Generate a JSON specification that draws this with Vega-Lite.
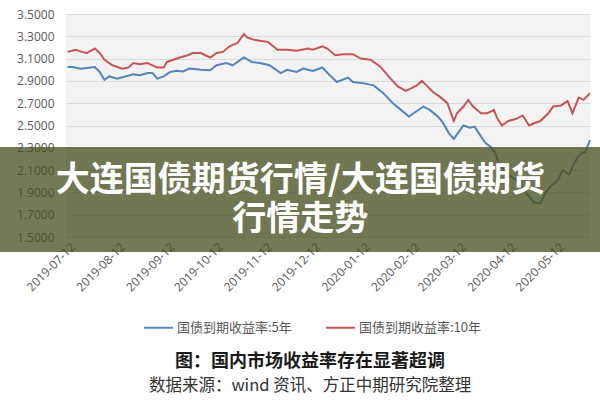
{
  "$schema": "https://vega.github.io/schema/vega-lite/v6.json",
  "width": 524,
  "height": 223,
  "autosize": {"type": "none"},
  "padding": {"left": 66, "top": 14, "right": 10, "bottom": 163},
  "background": "white",
  "config": {
    "view": {"fill": "#f3f3f3", "stroke": null},
    "font": "Noto Sans CJK SC"
  },
  "title": {
    "text": "图：国内市场收益率存在显著超调",
    "subtitle": "数据来源：wind 资讯、方正中期研究院整理",
    "orient": "bottom",
    "anchor": "middle",
    "frame": "group",
    "dx": -18,
    "offset": 18,
    "font": "Noto Sans CJK SC",
    "fontSize": 18,
    "fontWeight": "bold",
    "color": "#1a1a1a",
    "subtitleFont": "Noto Sans CJK SC",
    "subtitleFontSize": 16.5,
    "subtitleColor": "#333333",
    "subtitlePadding": 7
  },
  "datasets": {
    "yields": [
      {"date": "2019-07-11", "series": "国债到期收益率:5年", "v": 3.025},
      {"date": "2019-07-14", "series": "国债到期收益率:5年", "v": 3.025},
      {"date": "2019-07-19", "series": "国债到期收益率:5年", "v": 3.01},
      {"date": "2019-07-23", "series": "国债到期收益率:5年", "v": 3.015},
      {"date": "2019-07-28", "series": "国债到期收益率:5年", "v": 3.025},
      {"date": "2019-07-31", "series": "国债到期收益率:5年", "v": 2.98},
      {"date": "2019-08-03", "series": "国债到期收益率:5年", "v": 2.91},
      {"date": "2019-08-06", "series": "国债到期收益率:5年", "v": 2.94},
      {"date": "2019-08-11", "series": "国债到期收益率:5年", "v": 2.92},
      {"date": "2019-08-16", "series": "国债到期收益率:5年", "v": 2.94},
      {"date": "2019-08-21", "series": "国债到期收益率:5年", "v": 2.96},
      {"date": "2019-08-25", "series": "国债到期收益率:5年", "v": 2.95},
      {"date": "2019-08-30", "series": "国债到期收益率:5年", "v": 2.97},
      {"date": "2019-09-02", "series": "国债到期收益率:5年", "v": 2.97},
      {"date": "2019-09-05", "series": "国债到期收益率:5年", "v": 2.92},
      {"date": "2019-09-09", "series": "国债到期收益率:5年", "v": 2.94},
      {"date": "2019-09-13", "series": "国债到期收益率:5年", "v": 2.98},
      {"date": "2019-09-17", "series": "国债到期收益率:5年", "v": 2.99},
      {"date": "2019-09-21", "series": "国债到期收益率:5年", "v": 2.985},
      {"date": "2019-09-25", "series": "国债到期收益率:5年", "v": 3.01},
      {"date": "2019-09-30", "series": "国债到期收益率:5年", "v": 3.005},
      {"date": "2019-10-02", "series": "国债到期收益率:5年", "v": 3.0},
      {"date": "2019-10-08", "series": "国债到期收益率:5年", "v": 2.995},
      {"date": "2019-10-12", "series": "国债到期收益率:5年", "v": 3.04},
      {"date": "2019-10-18", "series": "国债到期收益率:5年", "v": 3.06},
      {"date": "2019-10-22", "series": "国债到期收益率:5年", "v": 3.04},
      {"date": "2019-10-29", "series": "国债到期收益率:5年", "v": 3.11},
      {"date": "2019-11-03", "series": "国债到期收益率:5年", "v": 3.07},
      {"date": "2019-11-08", "series": "国债到期收益率:5年", "v": 3.06},
      {"date": "2019-11-14", "series": "国债到期收益率:5年", "v": 3.04},
      {"date": "2019-11-21", "series": "国债到期收益率:5年", "v": 2.97},
      {"date": "2019-11-25", "series": "国债到期收益率:5年", "v": 3.0},
      {"date": "2019-12-01", "series": "国债到期收益率:5年", "v": 2.98},
      {"date": "2019-12-05", "series": "国债到期收益率:5年", "v": 3.01},
      {"date": "2019-12-11", "series": "国债到期收益率:5年", "v": 2.99},
      {"date": "2019-12-17", "series": "国债到期收益率:5年", "v": 3.02},
      {"date": "2019-12-21", "series": "国债到期收益率:5年", "v": 2.96},
      {"date": "2019-12-26", "series": "国债到期收益率:5年", "v": 2.89},
      {"date": "2020-01-02", "series": "国债到期收益率:5年", "v": 2.93},
      {"date": "2020-01-05", "series": "国债到期收益率:5年", "v": 2.89},
      {"date": "2020-01-11", "series": "国债到期收益率:5年", "v": 2.88},
      {"date": "2020-01-18", "series": "国债到期收益率:5年", "v": 2.86},
      {"date": "2020-01-24", "series": "国债到期收益率:5年", "v": 2.79},
      {"date": "2020-01-30", "series": "国债到期收益率:5年", "v": 2.7},
      {"date": "2020-02-04", "series": "国债到期收益率:5年", "v": 2.64},
      {"date": "2020-02-09", "series": "国债到期收益率:5年", "v": 2.58},
      {"date": "2020-02-12", "series": "国债到期收益率:5年", "v": 2.61},
      {"date": "2020-02-18", "series": "国债到期收益率:5年", "v": 2.67},
      {"date": "2020-02-22", "series": "国债到期收益率:5年", "v": 2.64},
      {"date": "2020-02-27", "series": "国债到期收益率:5年", "v": 2.58},
      {"date": "2020-03-01", "series": "国债到期收益率:5年", "v": 2.53},
      {"date": "2020-03-05", "series": "国债到期收益率:5年", "v": 2.43},
      {"date": "2020-03-08", "series": "国债到期收益率:5年", "v": 2.38},
      {"date": "2020-03-11", "series": "国债到期收益率:5年", "v": 2.44},
      {"date": "2020-03-14", "series": "国债到期收益率:5年", "v": 2.5},
      {"date": "2020-03-18", "series": "国债到期收益率:5年", "v": 2.48},
      {"date": "2020-03-21", "series": "国债到期收益率:5年", "v": 2.49},
      {"date": "2020-03-25", "series": "国债到期收益率:5年", "v": 2.4},
      {"date": "2020-03-28", "series": "国债到期收益率:5年", "v": 2.34},
      {"date": "2020-03-31", "series": "国债到期收益率:5年", "v": 2.31},
      {"date": "2020-04-03", "series": "国债到期收益率:5年", "v": 2.25},
      {"date": "2020-04-05", "series": "国债到期收益率:5年", "v": 2.16},
      {"date": "2020-04-11", "series": "国债到期收益率:5年", "v": 2.06},
      {"date": "2020-04-16", "series": "国债到期收益率:5年", "v": 2.01},
      {"date": "2020-04-22", "series": "国债到期收益率:5年", "v": 1.9},
      {"date": "2020-04-27", "series": "国债到期收益率:5年", "v": 1.81},
      {"date": "2020-05-01", "series": "国债到期收益率:5年", "v": 1.8},
      {"date": "2020-05-04", "series": "国债到期收益率:5年", "v": 1.89},
      {"date": "2020-05-07", "series": "国债到期收益率:5年", "v": 1.95},
      {"date": "2020-05-12", "series": "国债到期收益率:5年", "v": 2.01},
      {"date": "2020-05-15", "series": "国债到期收益率:5年", "v": 2.1},
      {"date": "2020-05-19", "series": "国债到期收益率:5年", "v": 2.06},
      {"date": "2020-05-22", "series": "国债到期收益率:5年", "v": 2.16},
      {"date": "2020-05-25", "series": "国债到期收益率:5年", "v": 2.23},
      {"date": "2020-05-28", "series": "国债到期收益率:5年", "v": 2.26},
      {"date": "2020-05-29", "series": "国债到期收益率:5年", "v": 2.26},
      {"date": "2020-06-01", "series": "国债到期收益率:5年", "v": 2.37},

      {"date": "2019-07-11", "series": "国债到期收益率:10年", "v": 3.16},
      {"date": "2019-07-16", "series": "国债到期收益率:10年", "v": 3.18},
      {"date": "2019-07-20", "series": "国债到期收益率:10年", "v": 3.16},
      {"date": "2019-07-23", "series": "国债到期收益率:10年", "v": 3.15},
      {"date": "2019-07-28", "series": "国债到期收益率:10年", "v": 3.19},
      {"date": "2019-07-31", "series": "国债到期收益率:10年", "v": 3.15},
      {"date": "2019-08-03", "series": "国债到期收益率:10年", "v": 3.09},
      {"date": "2019-08-08", "series": "国债到期收益率:10年", "v": 3.04},
      {"date": "2019-08-14", "series": "国债到期收益率:10年", "v": 3.01},
      {"date": "2019-08-18", "series": "国债到期收益率:10年", "v": 3.02},
      {"date": "2019-08-21", "series": "国债到期收益率:10年", "v": 3.06},
      {"date": "2019-08-25", "series": "国债到期收益率:10年", "v": 3.05},
      {"date": "2019-08-30", "series": "国债到期收益率:10年", "v": 3.06},
      {"date": "2019-09-02", "series": "国债到期收益率:10年", "v": 3.04},
      {"date": "2019-09-05", "series": "国债到期收益率:10年", "v": 3.02},
      {"date": "2019-09-09", "series": "国债到期收益率:10年", "v": 3.02},
      {"date": "2019-09-11", "series": "国债到期收益率:10年", "v": 3.07},
      {"date": "2019-09-15", "series": "国债到期收益率:10年", "v": 3.09},
      {"date": "2019-09-19", "series": "国债到期收益率:10年", "v": 3.11},
      {"date": "2019-09-24", "series": "国债到期收益率:10年", "v": 3.13},
      {"date": "2019-09-27", "series": "国债到期收益率:10年", "v": 3.15},
      {"date": "2019-10-02", "series": "国债到期收益率:10年", "v": 3.15},
      {"date": "2019-10-08", "series": "国债到期收益率:10年", "v": 3.11},
      {"date": "2019-10-12", "series": "国债到期收益率:10年", "v": 3.15},
      {"date": "2019-10-16", "series": "国债到期收益率:10年", "v": 3.16},
      {"date": "2019-10-20", "series": "国债到期收益率:10年", "v": 3.21},
      {"date": "2019-10-25", "series": "国债到期收益率:10年", "v": 3.24},
      {"date": "2019-10-29", "series": "国债到期收益率:10年", "v": 3.32},
      {"date": "2019-10-31", "series": "国债到期收益率:10年", "v": 3.29},
      {"date": "2019-11-04", "series": "国债到期收益率:10年", "v": 3.27},
      {"date": "2019-11-08", "series": "国债到期收益率:10年", "v": 3.26},
      {"date": "2019-11-13", "series": "国债到期收益率:10年", "v": 3.25},
      {"date": "2019-11-19", "series": "国债到期收益率:10年", "v": 3.18},
      {"date": "2019-11-25", "series": "国债到期收益率:10年", "v": 3.18},
      {"date": "2019-12-01", "series": "国债到期收益率:10年", "v": 3.17},
      {"date": "2019-12-08", "series": "国债到期收益率:10年", "v": 3.19},
      {"date": "2019-12-11", "series": "国债到期收益率:10年", "v": 3.18},
      {"date": "2019-12-17", "series": "国债到期收益率:10年", "v": 3.21},
      {"date": "2019-12-20", "series": "国债到期收益率:10年", "v": 3.19},
      {"date": "2019-12-25", "series": "国债到期收益率:10年", "v": 3.13},
      {"date": "2019-12-30", "series": "国债到期收益率:10年", "v": 3.14},
      {"date": "2020-01-05", "series": "国债到期收益率:10年", "v": 3.14},
      {"date": "2020-01-10", "series": "国债到期收益率:10年", "v": 3.1},
      {"date": "2020-01-16", "series": "国债到期收益率:10年", "v": 3.09},
      {"date": "2020-01-22", "series": "国债到期收益率:10年", "v": 3.03},
      {"date": "2020-01-28", "series": "国债到期收益率:10年", "v": 2.93},
      {"date": "2020-02-02", "series": "国债到期收益率:10年", "v": 2.85},
      {"date": "2020-02-07", "series": "国债到期收益率:10年", "v": 2.81},
      {"date": "2020-02-10", "series": "国债到期收益率:10年", "v": 2.83},
      {"date": "2020-02-14", "series": "国债到期收益率:10年", "v": 2.86},
      {"date": "2020-02-17", "series": "国债到期收益率:10年", "v": 2.9},
      {"date": "2020-02-20", "series": "国债到期收益率:10年", "v": 2.86},
      {"date": "2020-02-24", "series": "国债到期收益率:10年", "v": 2.8},
      {"date": "2020-02-29", "series": "国债到期收益率:10年", "v": 2.75},
      {"date": "2020-03-04", "series": "国债到期收益率:10年", "v": 2.7},
      {"date": "2020-03-08", "series": "国债到期收益率:10年", "v": 2.54},
      {"date": "2020-03-10", "series": "国债到期收益率:10年", "v": 2.61},
      {"date": "2020-03-14", "series": "国债到期收益率:10年", "v": 2.67},
      {"date": "2020-03-17", "series": "国债到期收益率:10年", "v": 2.73},
      {"date": "2020-03-20", "series": "国债到期收益率:10年", "v": 2.67},
      {"date": "2020-03-25", "series": "国债到期收益率:10年", "v": 2.61},
      {"date": "2020-03-29", "series": "国债到期收益率:10年", "v": 2.61},
      {"date": "2020-04-02", "series": "国债到期收益率:10年", "v": 2.64},
      {"date": "2020-04-04", "series": "国债到期收益率:10年", "v": 2.57},
      {"date": "2020-04-07", "series": "国债到期收益率:10年", "v": 2.5},
      {"date": "2020-04-11", "series": "国债到期收益率:10年", "v": 2.54},
      {"date": "2020-04-16", "series": "国债到期收益率:10年", "v": 2.56},
      {"date": "2020-04-20", "series": "国债到期收益率:10年", "v": 2.59},
      {"date": "2020-04-24", "series": "国债到期收益率:10年", "v": 2.5},
      {"date": "2020-04-27", "series": "国债到期收益率:10年", "v": 2.52},
      {"date": "2020-05-01", "series": "国债到期收益率:10年", "v": 2.54},
      {"date": "2020-05-06", "series": "国债到期收益率:10年", "v": 2.61},
      {"date": "2020-05-09", "series": "国债到期收益率:10年", "v": 2.67},
      {"date": "2020-05-14", "series": "国债到期收益率:10年", "v": 2.68},
      {"date": "2020-05-18", "series": "国债到期收益率:10年", "v": 2.72},
      {"date": "2020-05-21", "series": "国债到期收益率:10年", "v": 2.61},
      {"date": "2020-05-25", "series": "国债到期收益率:10年", "v": 2.75},
      {"date": "2020-05-28", "series": "国债到期收益率:10年", "v": 2.73},
      {"date": "2020-06-01", "series": "国债到期收益率:10年", "v": 2.79}
    ]
  },
  "layer": [
    {
      "data": {"name": "yields"},
      "mark": {"type": "line", "strokeWidth": 2, "interpolate": "linear"},
      "encoding": {
        "x": {
          "field": "date",
          "type": "temporal",
          "scale": {
            "type": "utc",
            "nice": false,
            "domain": [
              {"year": 2019, "month": 7, "date": 10, "utc": true},
              {"year": 2020, "month": 6, "date": 1, "utc": true}
            ]
          },
          "axis": {
            "title": null,
            "values": [
              {"year": 2019, "month": 7, "date": 12, "utc": true},
              {"year": 2019, "month": 8, "date": 12, "utc": true},
              {"year": 2019, "month": 9, "date": 12, "utc": true},
              {"year": 2019, "month": 10, "date": 12, "utc": true},
              {"year": 2019, "month": 11, "date": 12, "utc": true},
              {"year": 2019, "month": 12, "date": 12, "utc": true},
              {"year": 2020, "month": 1, "date": 12, "utc": true},
              {"year": 2020, "month": 2, "date": 12, "utc": true},
              {"year": 2020, "month": 3, "date": 12, "utc": true},
              {"year": 2020, "month": 4, "date": 12, "utc": true},
              {"year": 2020, "month": 5, "date": 12, "utc": true}
            ],
            "tickCount": 11,
            "format": "%Y-%m-%d",
            "labelAngle": -45,
            "labelFont": "Open Sans",
            "labelFontSize": 12,
            "labelColor": "#595959",
            "labelPadding": 4,
            "ticks": false,
            "domain": false,
            "grid": false,
            "labelOverlap": false
          }
        },
        "y": {
          "field": "v",
          "type": "quantitative",
          "scale": {"domain": [1.5, 3.5], "nice": false, "zero": false},
          "axis": {
            "title": null,
            "values": [1.5, 1.7, 1.9, 2.1, 2.3, 2.5, 2.7, 2.9, 3.1, 3.3, 3.5],
            "tickCount": 11,
            "format": ".4f",
            "labelFont": "Open Sans",
            "labelFontSize": 12,
            "labelColor": "#595959",
            "labelPadding": 12,
            "labelOverlap": false,
            "ticks": false,
            "domain": false,
            "grid": true,
            "gridColor": "#dadada",
            "gridWidth": 1
          }
        },
        "color": {
          "field": "series",
          "type": "nominal",
          "scale": {
            "domain": ["国债到期收益率:5年", "国债到期收益率:10年"],
            "range": ["#5585bb", "#c65557"]
          },
          "legend": {
            "title": null,
            "orient": "none",
            "legendX": 77,
            "legendY": 298,
            "direction": "horizontal",
            "symbolType": "stroke",
            "symbolSize": 841,
            "symbolStrokeWidth": 2,
            "labelFont": "Noto Sans CJK SC",
            "labelFontSize": 13,
            "labelColor": "#595959",
            "labelOffset": 3,
            "columnPadding": 30
          }
        }
      }
    },
    {
      "data": {"values": [{}]},
      "mark": {"type": "rect", "color": "#474e1e", "opacity": 0.75, "clip": false},
      "encoding": {
        "x": {"datum": {"year": 2019, "month": 5, "date": 29, "utc": true}, "type": "temporal"},
        "x2": {"datum": {"year": 2020, "month": 6, "date": 9, "utc": true}},
        "y": {"datum": 2.307, "type": "quantitative"},
        "y2": {"datum": 1.3655}
      }
    },
    {
      "data": {"values": [{}]},
      "mark": {
        "type": "text",
        "clip": false,
        "color": "white",
        "font": "Noto Sans CJK SC",
        "fontWeight": "bold",
        "fontSize": 34,
        "align": "center",
        "baseline": "middle",
        "lineHeight": 39
      },
      "encoding": {
        "x": {"datum": {"year": 2019, "month": 12, "date": 3, "hours": 6, "utc": true}, "type": "temporal"},
        "y": {"datum": 2.0, "type": "quantitative"},
        "text": {"value": ["大连国债期货行情/大连国债期货", "行情走势"]}
      }
    }
  ]
}
